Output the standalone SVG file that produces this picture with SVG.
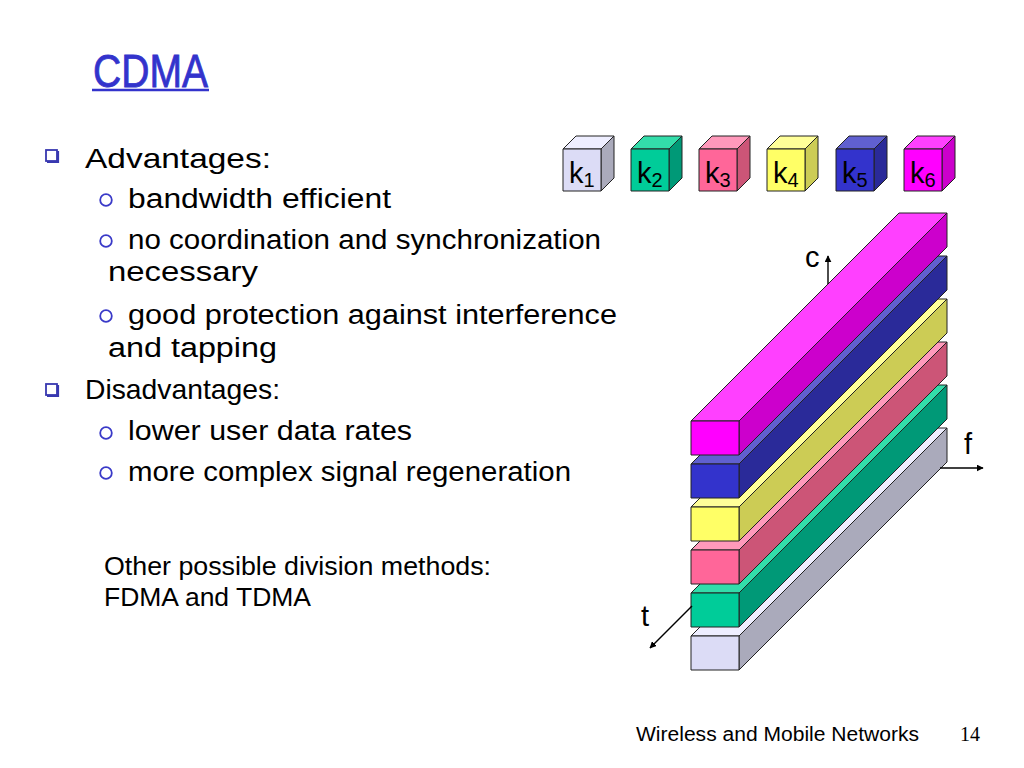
<svg xmlns="http://www.w3.org/2000/svg" width="1024" height="768" viewBox="0 0 1024 768">
<style>
.txt{font-family:"Liberation Sans",Arial,sans-serif;fill:#000}
.b1{font-size:28px}
.b2{font-size:27px}
.oth{font-size:25px}
.lbl{font-family:"Liberation Sans",Arial,sans-serif;font-size:29px;fill:#000}
.sub{font-size:20px}
.edge{stroke:#222;stroke-width:1;stroke-linejoin:round}
.sq{fill:#fff;stroke:#3838b0;stroke-width:1.8}
.sqs{fill:none;stroke:#3838b0;stroke-width:2.2}
.ci{fill:#fff;stroke:#3a3ac8;stroke-width:1.8}
.ax{stroke:#000;stroke-width:1.4;fill:none}
.mF{fill:#ff00ff}.mT{fill:#ff40ff}.mR{fill:#cc00cc}
.bF{fill:#3333cc}.bT{fill:#6060d0}.bR{fill:#2a2a99}
.yF{fill:#ffff66}.yT{fill:#ffff99}.yR{fill:#cccc55}
.pF{fill:#ff6699}.pT{fill:#ff99bb}.pR{fill:#cc5577}
.gF{fill:#00cc99}.gT{fill:#33ddaa}.gR{fill:#009977}
.lF{fill:#dcdcf6}.lT{fill:#eeeeff}.lR{fill:#aaaabb}
</style>
<defs>
<marker id="arr" viewBox="0 0 10 10" refX="9" refY="5" markerWidth="7" markerHeight="7" orient="auto" markerUnits="userSpaceOnUse">
<path d="M0,0 L10,5 L0,10 z" fill="#000"/>
</marker>
</defs>
<rect width="1024" height="768" fill="#fff"/>

<g id="title">
<text x="93" y="87" font-family="Liberation Sans,Arial,sans-serif" font-size="46" fill="#3333cc" stroke="#3333cc" stroke-width="0.8" textLength="115" lengthAdjust="spacingAndGlyphs">CDMA</text>
<line x1="92" y1="90" x2="209" y2="90" stroke="#3333cc" stroke-width="2.5"/>
</g>

<g id="bullets">
<rect class="sq" x="46" y="150" width="11" height="11"/>
<path class="sqs" d="M58,151 V162 H47"/>
<rect class="sq" x="46" y="384" width="11" height="11"/>
<path class="sqs" d="M58,385 V396 H47"/>
<circle class="ci" cx="106" cy="200" r="5.8"/>
<circle class="ci" cx="106" cy="241" r="5.8"/>
<circle class="ci" cx="106" cy="316" r="5.8"/>
<circle class="ci" cx="106" cy="433" r="5.8"/>
<circle class="ci" cx="106" cy="473" r="5.8"/>
</g>

<g id="text-list">
<text class="txt b1" x="85" y="168" textLength="186" lengthAdjust="spacingAndGlyphs">Advantages:</text>
<text class="txt b2" x="128" y="208" textLength="263" lengthAdjust="spacingAndGlyphs">bandwidth efficient</text>
<text class="txt b2" x="128" y="249" textLength="473" lengthAdjust="spacingAndGlyphs">no coordination and synchronization</text>
<text class="txt b2" x="108" y="281" textLength="150" lengthAdjust="spacingAndGlyphs">necessary</text>
<text class="txt b2" x="128" y="324" textLength="489" lengthAdjust="spacingAndGlyphs">good protection against interference</text>
<text class="txt b2" x="108" y="357" textLength="169" lengthAdjust="spacingAndGlyphs">and tapping</text>
<text class="txt b1" x="85" y="399" textLength="195" lengthAdjust="spacingAndGlyphs">Disadvantages:</text>
<text class="txt b2" x="128" y="440" textLength="284" lengthAdjust="spacingAndGlyphs">lower user data rates</text>
<text class="txt b2" x="128" y="481" textLength="443" lengthAdjust="spacingAndGlyphs">more complex signal regeneration</text>
<text class="txt oth" x="104" y="575" textLength="387" lengthAdjust="spacingAndGlyphs">Other possible division methods:</text>
<text class="txt oth" x="104" y="606" textLength="207" lengthAdjust="spacingAndGlyphs">FDMA and TDMA</text>
</g>

<g id="cube-k1">
<polygon class="edge lT" points="563,149 576,136 614,136 601,149"/>
<polygon class="edge lR" points="601,149 614,136 614,178 601,191"/>
<rect class="edge lF" x="563" y="149" width="38" height="42"/>
<text class="lbl" x="569" y="183">k<tspan class="sub" dy="4">1</tspan></text>
</g>
<g id="cube-k2">
<polygon class="edge gT" points="631,149 644,136 682,136 669,149"/>
<polygon class="edge gR" points="669,149 682,136 682,178 669,191"/>
<rect class="edge gF" x="631" y="149" width="38" height="42"/>
<text class="lbl" x="637" y="183">k<tspan class="sub" dy="4">2</tspan></text>
</g>
<g id="cube-k3">
<polygon class="edge pT" points="699,149 712,136 750,136 737,149"/>
<polygon class="edge pR" points="737,149 750,136 750,178 737,191"/>
<rect class="edge pF" x="699" y="149" width="38" height="42"/>
<text class="lbl" x="705" y="183">k<tspan class="sub" dy="4">3</tspan></text>
</g>
<g id="cube-k4">
<polygon class="edge yT" points="767,149 780,136 818,136 805,149"/>
<polygon class="edge yR" points="805,149 818,136 818,178 805,191"/>
<rect class="edge yF" x="767" y="149" width="38" height="42"/>
<text class="lbl" x="773" y="183">k<tspan class="sub" dy="4">4</tspan></text>
</g>
<g id="cube-k5">
<polygon class="edge bT" points="836,149 849,136 887,136 874,149"/>
<polygon class="edge bR" points="874,149 887,136 887,178 874,191"/>
<rect class="edge bF" x="836" y="149" width="38" height="42"/>
<text class="lbl" x="842" y="183">k<tspan class="sub" dy="4">5</tspan></text>
</g>
<g id="cube-k6">
<polygon class="edge mT" points="904,149 917,136 955,136 942,149"/>
<polygon class="edge mR" points="942,149 955,136 955,178 942,191"/>
<rect class="edge mF" x="904" y="149" width="38" height="42"/>
<text class="lbl" x="910" y="183">k<tspan class="sub" dy="4">6</tspan></text>
</g>

<g id="bar-k1">
<polygon class="edge lT" points="691,636 739,636 947,428 899,428"/>
<polygon class="edge lR" points="739,636 947,428 947,462 739,670"/>
<rect class="edge lF" x="691" y="636" width="48" height="34"/>
</g>
<g id="bar-k2">
<polygon class="edge gT" points="691,593 739,593 947,385 899,385"/>
<polygon class="edge gR" points="739,593 947,385 947,419 739,627"/>
<rect class="edge gF" x="691" y="593" width="48" height="34"/>
</g>
<g id="bar-k3">
<polygon class="edge pT" points="691,550 739,550 947,342 899,342"/>
<polygon class="edge pR" points="739,550 947,342 947,376 739,584"/>
<rect class="edge pF" x="691" y="550" width="48" height="34"/>
</g>
<g id="bar-k4">
<polygon class="edge yT" points="691,507 739,507 947,299 899,299"/>
<polygon class="edge yR" points="739,507 947,299 947,333 739,541"/>
<rect class="edge yF" x="691" y="507" width="48" height="34"/>
</g>
<g id="bar-k5">
<polygon class="edge bT" points="691,464 739,464 947,256 899,256"/>
<polygon class="edge bR" points="739,464 947,256 947,290 739,498"/>
<rect class="edge bF" x="691" y="464" width="48" height="34"/>
</g>
<g id="bar-k6">
<polygon class="edge mT" points="691,421 739,421 947,213 899,213"/>
<polygon class="edge mR" points="739,421 947,213 947,247 739,455"/>
<rect class="edge mF" x="691" y="421" width="48" height="34"/>
</g>

<g id="connectors">
<line class="ax" x1="828" y1="284" x2="828" y2="256" marker-end="url(#arr)"/>
<line class="ax" x1="940" y1="468" x2="983" y2="468" marker-end="url(#arr)"/>
<line class="ax" x1="692" y1="606" x2="650" y2="648" marker-end="url(#arr)"/>
</g>

<g id="axis-labels">
<text class="lbl" x="805" y="267">c</text>
<text class="lbl" x="964" y="454">f</text>
<text class="lbl" x="641" y="626">t</text>
</g>

<g id="footer">
<text class="txt" x="636" y="741" font-size="20" textLength="283" lengthAdjust="spacingAndGlyphs">Wireless and Mobile Networks</text>
<text x="960" y="741" font-family="Liberation Serif,Times New Roman,serif" font-size="20" fill="#000">14</text>
</g>
</svg>
